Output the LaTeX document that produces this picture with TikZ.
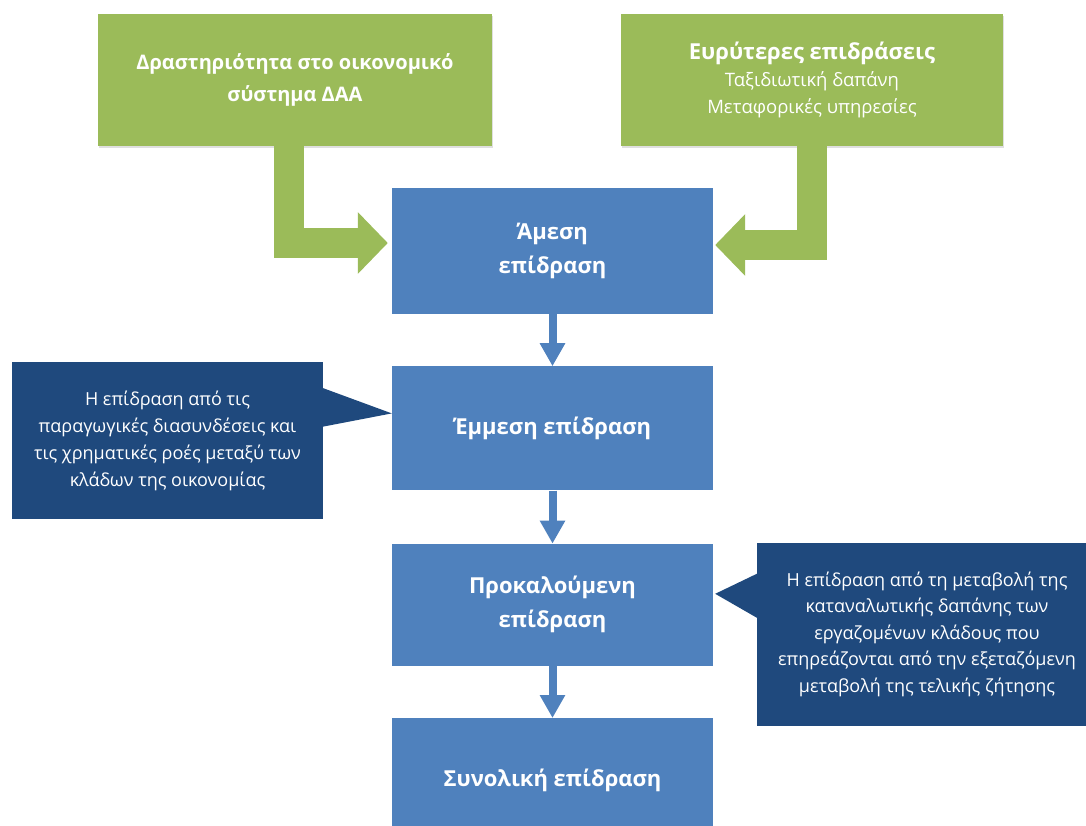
\documentclass[tikz,border=0pt]{standalone}
\usepackage{fontspec}
\setmainfont{Open Sans}
\usepackage{xcolor}
\definecolor{EIgreen}{HTML}{9BBB59}
\definecolor{EIblue}{HTML}{4F81BD}
\definecolor{EInavy}{HTML}{1F497D}
\usepackage{tikz}
\usetikzlibrary{arrows.meta, positioning, calc, shadows}

\begin{document}
\begin{tikzpicture}[
  x=1pt, y=-1pt,
  node distance=52pt,
  stage/.style={
    fill=EIblue, minimum width=321pt, minimum height=124pt,
    text=white, font=\fontsize{22}{34}\selectfont\bfseries,
    align=center, inner sep=0pt
  },
  source/.style={
    fill=EIgreen, minimum height=132pt, text=white, align=center,
    drop shadow={opacity=0.25, shadow xshift=1pt, shadow yshift=-2pt}
  },
  note/.style={
    fill=EInavy, text=white, align=center, inner sep=0pt,
    font=\fontsize{18}{27}\selectfont
  },
  garrow/.style={draw=EIgreen, line width=30pt, -{Triangle[length=30pt, width=60pt]}},
  barrow/.style={draw=EIblue, line width=8pt, -{Triangle[length=23pt, width=24pt]}},
]
\useasboundingbox (0,0) rectangle (1086,825);

% Sources (top row)
\node[source, minimum width=394pt, font=\fontsize{20}{32}\selectfont\bfseries] (drast) at (295,80)
  {Δραστηριότητα στο οικονομικό\\σύστημα ΔΑΑ};
\node[source, minimum width=382pt, font=\fontsize{18.5}{27}\selectfont] (evryt) at (812,80)
  {{\fontsize{22}{27}\selectfont\bfseries Ευρύτερες επιδράσεις}\\Ταξιδιωτική δαπάνη\\Μεταφορικές υπηρεσίες};

% Stages (centre column)
\node[stage, minimum height=126pt] (amesi) at (552.5,251) {Άμεση\\επίδραση};
\node[stage, below=of amesi] (emmesi) {Έμμεση επίδραση};
\node[stage, below=53pt of emmesi, minimum height=122pt] (prokal) {Προκαλούμενη\\επίδραση};
\node[stage, below=of prokal] (synol) {Συνολική επίδραση};

% Notes
\node[note, minimum width=311pt, minimum height=157pt] (noteL) at (167.5,440.5)
  {Η επίδραση από τις\\παραγωγικές διασυνδέσεις και\\τις χρηματικές ροές μεταξύ των\\κλάδων της οικονομίας};
\node[note, minimum width=340pt, minimum height=183pt, font=\fontsize{18}{26.5}\selectfont] (noteR) at (927,634)
  {Η επίδραση από τη μεταβολή της\\καταναλωτικής δαπάνης των\\εργαζομένων κλάδους που\\επηρεάζονται από την εξεταζόμενη\\μεταβολή της τελικής ζήτησης};

% Note pointers
\fill[EInavy] ($(noteL.north east)+(-1,26)$) -- ($(emmesi.west)+(0,-15)$) -- ($(noteL.north east)+(-1,65)$) -- cycle;
\fill[EInavy] ($(noteR.north west)+(1,31)$) -- ($(prokal.east)+(2,-11)$) -- ($(noteR.north west)+(1,76)$) -- cycle;

% Green bent arrows
\coordinate (gL) at ($(drast.south)+(-6,0)$);
\coordinate (gR) at (evryt.south);
\draw[garrow] (gL) |- ($(amesi.west)+(-4,-8)$);
\draw[garrow] (gR) |- ($(amesi.east)+(2,-6)$);

% Blue arrows
\draw[barrow] (amesi) -- (emmesi);
\draw[barrow] (emmesi) -- (prokal);
\draw[barrow] (prokal) -- (synol);

\end{tikzpicture}
\end{document}
